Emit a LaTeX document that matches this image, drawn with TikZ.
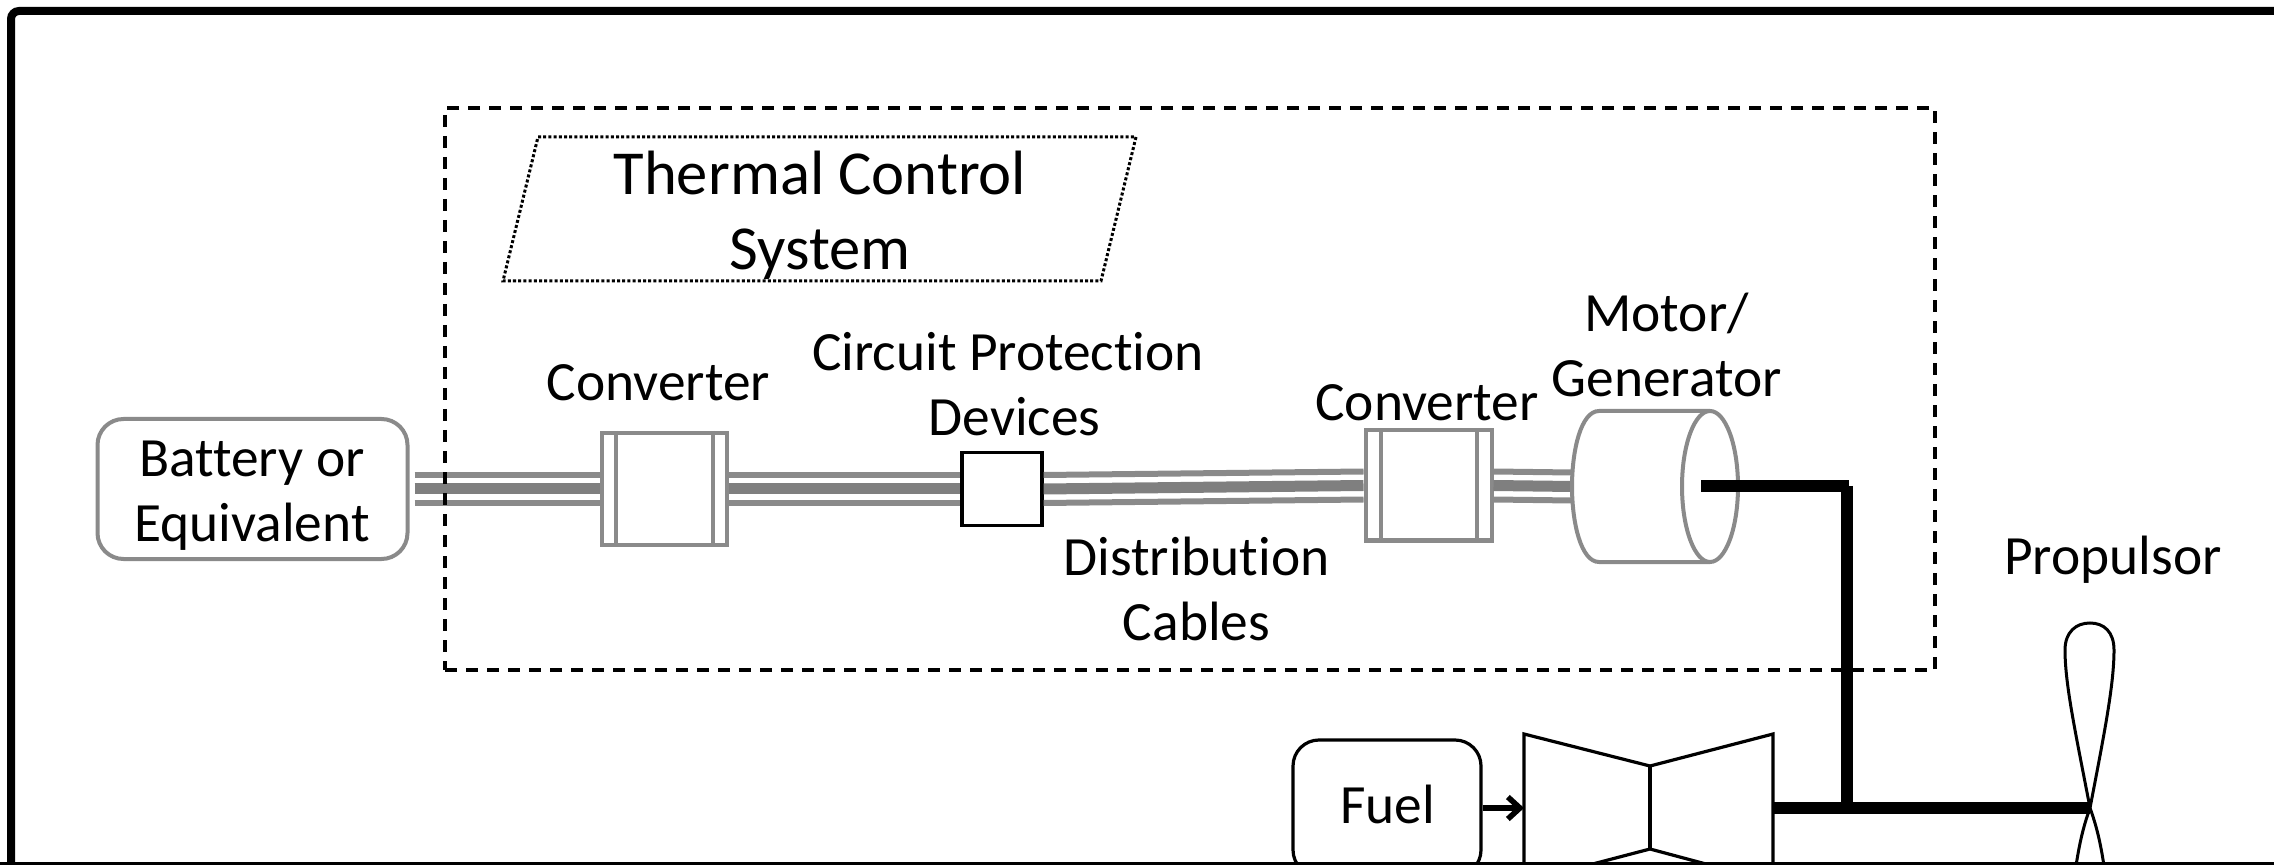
\documentclass[tikz,border=0pt]{standalone}
\usepackage{fontspec}
\setmainfont{Carlito}[Ligatures=NoCommon]
\usetikzlibrary{calc,arrows.meta}
\definecolor{compgray}{HTML}{8A8A8A}
\tikzset{
  label text/.style={font=\fontsize{27.7}{32.5}\selectfont, align=center, inner sep=0pt, text=black},
  gray part/.style={draw=compgray, line width=2pt, fill=white, inner sep=0pt},
  cable thin/.style={draw=compgray, line width=3pt},
  cable thick/.style={draw=compgray!92!black, line width=5.5pt},
  shaft/.style={draw=black, line width=6.2pt},
  black part/.style={draw=black, line width=1.6pt},
}
\begin{document}
\begin{tikzpicture}[x=0.5pt,y=-0.5pt]
\useasboundingbox (0,0) rectangle (2274,865);
\clip (0,0) rectangle (2274,865);
% components
\node[gray part, rounded corners=13pt, minimum width=155pt, minimum height=70pt] (batt) at (252.5,489) {};
\node[gray part, minimum width=62.5pt, minimum height=56pt] (convA) at (664.5,489) {};
\node[draw=black, line width=1.6pt, fill=white, inner sep=0pt, minimum width=40pt, minimum height=36.5pt] (prot) at (1002,489) {};
\node[gray part, minimum width=63pt, minimum height=55pt] (convB) at (1428.5,485.5) {};
\coordinate (mot) at (1710,486.5);
\coordinate (motL) at (1572,486.5);
% cables
\foreach \o/\s in {-14/cable thin,0/cable thick,14/cable thin}{
  \draw[\s] ($(batt.east)+(5,\o)$) -- ($(convA.west)+(0,\o)$);
  \draw[\s] ($(convA.east)+(0,\o)$) -- ($(prot.west)+(0,\o)$);
  \draw[\s] ($(prot.east)+(0,\o)$) -- ($(convB.west)+(0,\o)$);
  \draw[\s] ($(convB.east)+(0,\o)$) -- ($(motL)+(0,\o)$);
}
% converter inner lines
\draw[gray part] (convA.north west)++(16,0) -- ++(0,112);
\draw[gray part] (convA.north east)++(-16,0) -- ++(0,112);
\draw[gray part] (convB.north west)++(17,0) -- ++(0,110);
\draw[gray part] (convB.north east)++(-17,0) -- ++(0,110);
% motor
\draw[gray part] (1710,411) -- (1599,411) .. controls (1581,411) and (1572,450) .. (1572,486.5) .. controls (1572,523) and (1581,562) .. (1599,562) -- (1710,562);
\draw[gray part] (mot) ellipse [x radius=28, y radius=75.5];
% dashed system box
\node[draw=black, line width=1.6pt, dash pattern=on 6pt off 4.5pt, inner sep=0pt, minimum width=745pt, minimum height=281pt] (sys) at (1190,389) {};
% thermal control
\draw[black, line width=1.5pt, dash pattern=on 1.5pt off 1.1pt] (538,137) -- (1136,137) -- (1101,281) -- (503,281) -- cycle;
\node[label text, font=\fontsize{31.3}{37.5}\selectfont] (tcs) at (820,215) {Thermal Control\\System};
% labels
\node[label text] (lbatt) at (252,496) {Battery or\\Equivalent};
\node[label text] (lca) at (658.5,383) {Converter};
\node[label text] (lcp) at (1008,384) {Circuit Protection\\\hspace*{6.5pt}Devices};
\node[label text] (lcb) at (1427,403) {Converter};
\node[label text] (lmg) at (1666.5,344.5) {Motor/\\Generator};
\node[label text] (ldc) at (1196.5,588.5) {Distribution\\Cables};
\node[label text] (lprop) at (2113,560) {Propulsor};
% fuel and turbine
\node[draw=black, line width=1.6pt, rounded corners=13pt, minimum width=94pt, minimum height=68pt, inner sep=0pt] (fuel) at (1387,808) {};
\node[label text] (lfuel) at (1387.5,804) {Fuel};
\coordinate (tL) at (1524,808);
\coordinate (tR) at (1773,808);
\draw[black part, line join=miter] (tL) -- (1524,734) -- (1650,766) -- (1773,734) -- (tR) -- (1773,882) -- (1650,849) -- (1524,882) -- cycle;
\draw[black part] (1650,766) -- (1650,849);
\draw[black, line width=2.8pt, -{Straight Barb[length=6pt,width=11pt]}] (fuel.east) -- (tL);
% propeller
\coordinate (prop) at (2090,808);
\draw[black, line width=1.5pt] (prop) .. controls (2076,735) and (2065,685) .. (2065,650) .. controls (2065,632) and (2076,623) .. (2090,623) .. controls (2104,623) and (2114,632) .. (2114,650) .. controls (2114,685) and (2104,735) .. (prop);
\draw[black, line width=1.5pt] (prop) .. controls (2082,830) and (2078,850) .. (2074,880);
\draw[black, line width=1.5pt] (prop) .. controls (2098,830) and (2102,850) .. (2106,880);
% shafts
\draw[shaft] (1701,486) -- (1849,486);
\draw[shaft] (1847,486) -- (1847,808);
\draw[shaft] (tR) -- (prop);
% frame
\draw[black, line width=4pt, rounded corners=4pt] (11,875) -- (11,11) -- (2290,11);
\fill[black] (0,862) rectangle (2274,865);
\end{tikzpicture}
\end{document}
